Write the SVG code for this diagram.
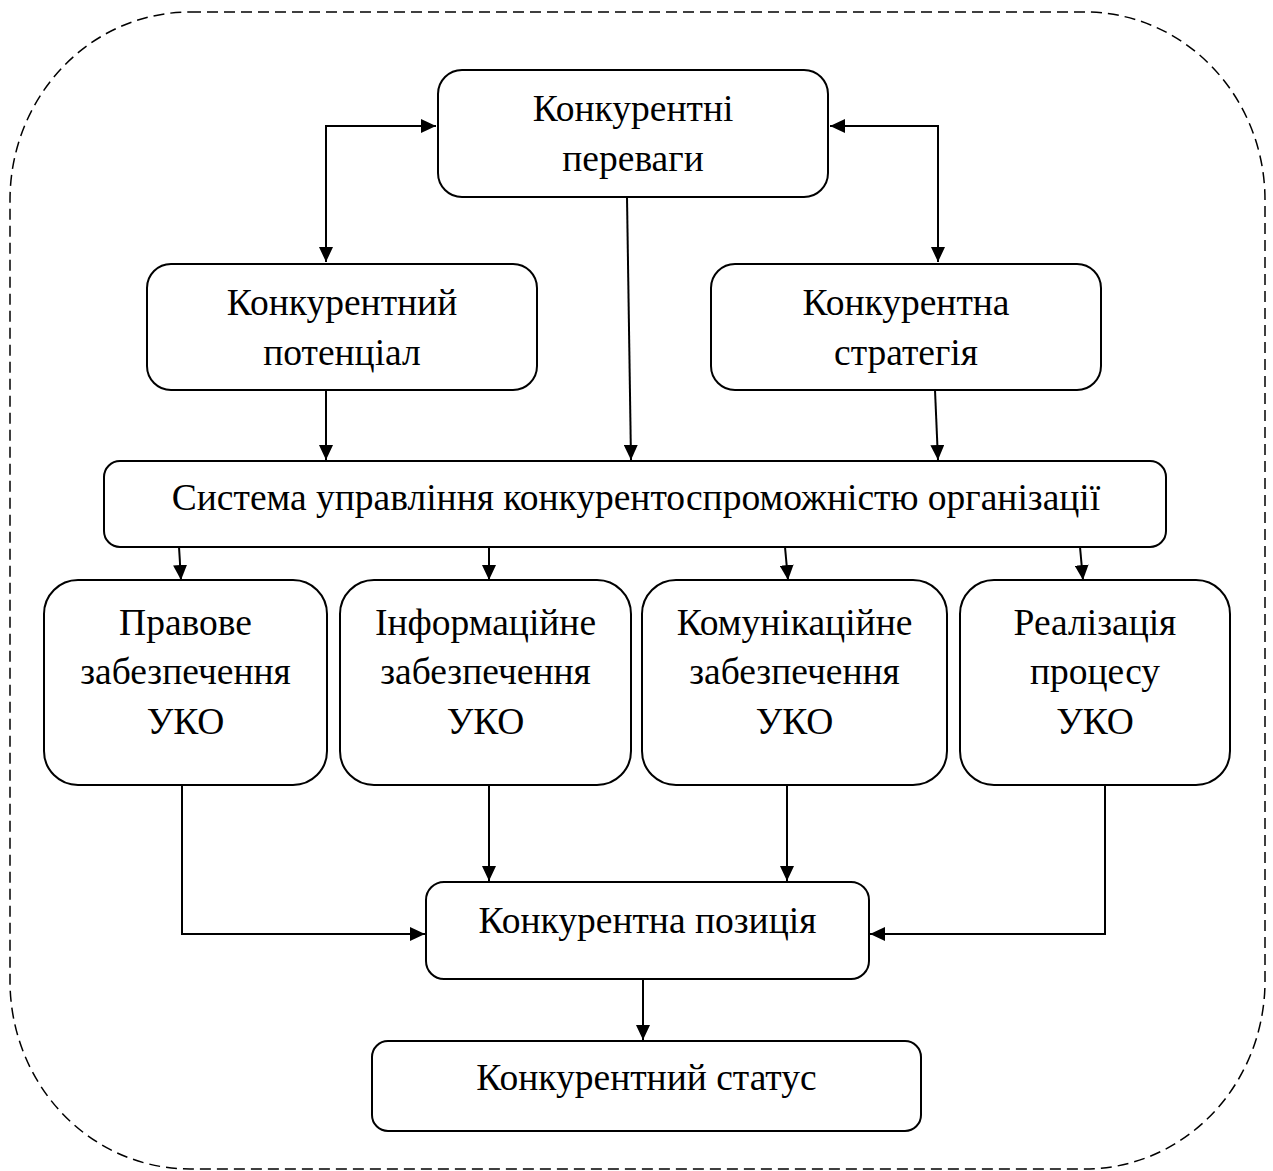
<svg xmlns="http://www.w3.org/2000/svg" width="1273" height="1171" viewBox="0 0 1273 1171">
<style>
.box{fill:#fff;stroke:#000;stroke-width:2}
.t{font-size:37.5px;fill:#000;text-anchor:middle}
.c{fill:none;stroke:#000;stroke-width:2}
</style>
<defs>
<marker id="ah" markerUnits="userSpaceOnUse" markerWidth="16" markerHeight="14" refX="15" refY="7" orient="auto-start-reverse">
<path d="M0,0 L15,7 L0,14 z" fill="#000"/>
</marker>
</defs>
<rect x="10" y="12" width="1255" height="1157" rx="180" ry="188" fill="none" stroke="#000" stroke-width="1.5" stroke-dasharray="11 6"/>
<g id="connectors">
<path class="c" d="M436,126 H326 V262" marker-start="url(#ah)" marker-end="url(#ah)"/>
<path class="c" d="M830,126 H938 V262" marker-start="url(#ah)" marker-end="url(#ah)"/>
<path class="c" d="M627,197 L631,460" marker-end="url(#ah)"/>
<path class="c" d="M326,390 V460" marker-end="url(#ah)"/>
<path class="c" d="M935,390 L938,460" marker-end="url(#ah)"/>
<path class="c" d="M179,547 L181,580" marker-end="url(#ah)"/>
<path class="c" d="M489,547 V580" marker-end="url(#ah)"/>
<path class="c" d="M785,547 L788,580" marker-end="url(#ah)"/>
<path class="c" d="M1080,547 L1083,580" marker-end="url(#ah)"/>
<path class="c" d="M182,785 V934 H425" marker-end="url(#ah)"/>
<path class="c" d="M489,785 V881" marker-end="url(#ah)"/>
<path class="c" d="M787,785 V881" marker-end="url(#ah)"/>
<path class="c" d="M1105,785 V934 H870" marker-end="url(#ah)"/>
<path class="c" d="M643,979 V1040" marker-end="url(#ah)"/>
</g>
<g font-family="'Liberation Serif', 'DejaVu Serif', serif">
<g id="perevagy">
<rect class="box" x="438" y="70" width="390" height="127" rx="24"/>
<text class="t" x="633" y="121">Конкурентні</text>
<text class="t" x="633" y="171">переваги</text>
</g>
<g id="potencial">
<rect class="box" x="147" y="264" width="390" height="126" rx="24"/>
<text class="t" x="342" y="315">Конкурентний</text>
<text class="t" x="342" y="365">потенціал</text>
</g>
<g id="strategia">
<rect class="box" x="711" y="264" width="390" height="126" rx="24"/>
<text class="t" x="906" y="315">Конкурентна</text>
<text class="t" x="906" y="365">стратегія</text>
</g>
<g id="systema">
<rect class="box" x="104" y="461" width="1062" height="86" rx="16"/>
<text class="t" x="636" y="510">Система управління конкурентоспроможністю організації</text>
</g>
<g id="pravove">
<rect class="box" x="44" y="580" width="283" height="205" rx="34"/>
<text class="t" x="185.5" y="635">Правове</text>
<text class="t" x="185.5" y="684">забезпечення</text>
<text class="t" x="185.5" y="734">УКО</text>
</g>
<g id="informaciyne">
<rect class="box" x="340" y="580" width="291" height="205" rx="34"/>
<text class="t" x="485.5" y="635">Інформаційне</text>
<text class="t" x="485.5" y="684">забезпечення</text>
<text class="t" x="485.5" y="734">УКО</text>
</g>
<g id="komunikaciyne">
<rect class="box" x="642" y="580" width="305" height="205" rx="34"/>
<text class="t" x="794.5" y="635">Комунікаційне</text>
<text class="t" x="794.5" y="684">забезпечення</text>
<text class="t" x="794.5" y="734">УКО</text>
</g>
<g id="realizacia">
<rect class="box" x="960" y="580" width="270" height="205" rx="34"/>
<text class="t" x="1095" y="635">Реалізація</text>
<text class="t" x="1095" y="684">процесу</text>
<text class="t" x="1095" y="734">УКО</text>
</g>
<g id="pozycia">
<rect class="box" x="426" y="882" width="443" height="97" rx="18"/>
<text class="t" x="647.5" y="933">Конкурентна позиція</text>
</g>
<g id="status">
<rect class="box" x="372" y="1041" width="549" height="90" rx="16"/>
<text class="t" x="646.5" y="1090">Конкурентний статус</text>
</g>
</g>
</svg>
